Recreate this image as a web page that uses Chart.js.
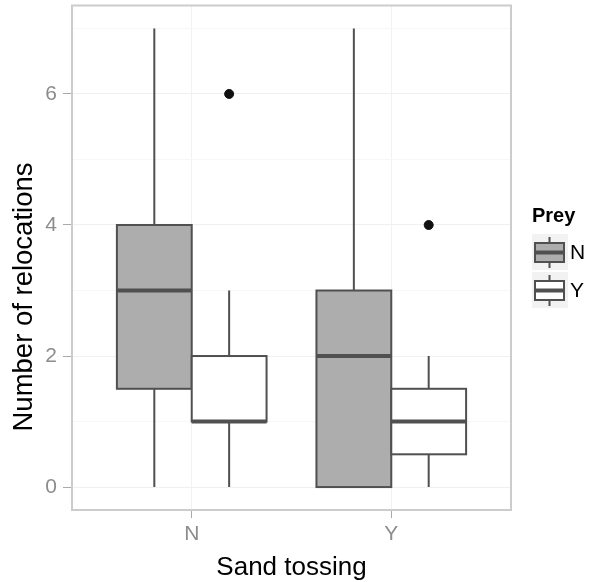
<!DOCTYPE html>
<html>
<head>
<meta charset="utf-8">
<script src="https://cdn.jsdelivr.net/npm/chart.js@4/dist/chart.umd.min.js"></script>
<style>
  body { margin: 0; background: #fff; }
  #wrap { width: 593px; height: 582px; position: relative; }
</style>
</head>
<body>
<div id="wrap"><canvas id="boxChart"></canvas></div>
<script>
// categories
const sandTossing = ['N', 'Y'];
const preyLevels = ['N', 'Y'];

// box stats, one value per sand tossing group
const preyN_min = [0, 0];
const preyN_q1 = [1.5, 0];
const preyN_median = [3, 2];
const preyN_q3 = [4, 3];
const preyN_max = [7, 7];
const preyN_outliers = [[], []];

const preyY_min = [0, 0];
const preyY_q1 = [1, 0.5];
const preyY_median = [1, 1];
const preyY_q3 = [2, 1.5];
const preyY_max = [3, 2];
const preyY_outliers = [[6], [4]];

// y axis ticks
const yTicks = [0, 2, 4, 6];
const yMinor = [1, 3, 5, 7];

const preyFill = ['#ADADAD', '#FFFFFF'];
const lineCol = '#505050';
const dodge = 0.1875;   // half of the dodged box width
const boxW = 0.375;

const preyStats = [
    { min: preyN_min, q1: preyN_q1, med: preyN_median, q3: preyN_q3, max: preyN_max, out: preyN_outliers },
    { min: preyY_min, q1: preyY_q1, med: preyY_median, q3: preyY_q3, max: preyY_max, out: preyY_outliers }
];

function xPos(group, prey) {
    return group + 1 + (prey === 0 ? -dodge : dodge);
}

// outlier points for scatter dataset
const outlierPoints = [];
preyStats.forEach((s, p) => {
    s.out.forEach((vals, g) => {
        vals.forEach(v => outlierPoints.push({ x: xPos(g, p), y: v }));
    });
});

const fontFamily = '"Liberation Sans", Arial, Helvetica, sans-serif';
Chart.defaults.font.family = fontFamily;

function drawBox(ctx, x0, x1, yq1, yq3, ymed, ymin, ymax, xc, fill) {
    ctx.strokeStyle = lineCol;
    ctx.lineWidth = 2;
    // whiskers
    ctx.beginPath();
    ctx.moveTo(xc, ymax); ctx.lineTo(xc, yq3);
    ctx.moveTo(xc, yq1); ctx.lineTo(xc, ymin);
    ctx.stroke();
    // box
    ctx.fillStyle = fill;
    ctx.fillRect(x0, yq3, x1 - x0, yq1 - yq3);
    ctx.strokeRect(x0, yq3, x1 - x0, yq1 - yq3);
    // median
    ctx.lineWidth = 4;
    ctx.beginPath();
    ctx.moveTo(x0, ymed); ctx.lineTo(x1, ymed);
    ctx.stroke();
}

const boxPlugin = {
    id: 'boxes',
    beforeDatasetsDraw(chart) {
        const ctx = chart.ctx;
        const xs = chart.scales.x, ys = chart.scales.y;
        const a = chart.chartArea;
        ctx.save();
        // panel border
        ctx.strokeStyle = '#CCCCCC';
        ctx.lineWidth = 2;
        ctx.strokeRect(a.left, a.top, a.right - a.left, a.bottom - a.top);
        preyStats.forEach((s, p) => {
            sandTossing.forEach((g, gi) => {
                const xc = xPos(gi, p);
                drawBox(ctx,
                    xs.getPixelForValue(xc - boxW / 2), xs.getPixelForValue(xc + boxW / 2),
                    ys.getPixelForValue(s.q1[gi]), ys.getPixelForValue(s.q3[gi]),
                    ys.getPixelForValue(s.med[gi]), ys.getPixelForValue(s.min[gi]),
                    ys.getPixelForValue(s.max[gi]), xs.getPixelForValue(xc), preyFill[p]);
            });
        });
        ctx.restore();
    },
    afterDraw(chart) {
        const ctx = chart.ctx;
        const a = chart.chartArea;
        ctx.save();
        // axis titles
        ctx.fillStyle = '#000';
        ctx.font = '26px ' + fontFamily;
        ctx.textAlign = 'center';
        ctx.textBaseline = 'alphabetic';
        ctx.fillText('Sand tossing', (a.left + a.right) / 2, 575);
        ctx.save();
        ctx.translate(32, 297);
        ctx.rotate(-Math.PI / 2);
        ctx.font = '27.5px ' + fontFamily;
        ctx.fillText('Number of relocations', 0, 0);
        ctx.restore();

        // legend
        const lx = a.right + 21;
        ctx.textAlign = 'left';
        ctx.font = 'bold 20px ' + fontFamily;
        ctx.fillText('Prey', lx, 222);
        ctx.font = '21px ' + fontFamily;
        ctx.textBaseline = 'middle';
        preyLevels.forEach((lab, i) => {
            const ky = 234 + i * 38;
            ctx.fillStyle = '#F2F2F2';
            ctx.fillRect(lx, ky, 36, 36);
            drawBox(ctx, lx + 3, lx + 32, ky + 28, ky + 9, ky + 18.5, ky + 34, ky + 3, lx + 17.5, preyFill[i]);
            ctx.fillStyle = '#000';
            ctx.fillText(lab, lx + 38, ky + 19);
        });
        ctx.restore();
    }
};

const ctx = document.getElementById('boxChart').getContext('2d');
const boxChart = new Chart(ctx, {
    type: 'scatter',
    data: {
        datasets: [{
            label: 'outliers',
            data: outlierPoints,
            backgroundColor: '#111',
            borderColor: '#111',
            pointRadius: 4.5,
            pointHoverRadius: 4.5
        }]
    },
    options: {
        responsive: true,
        maintainAspectRatio: false,
        animation: false,
        layout: { padding: { top: 5, right: 82, left: 0, bottom: 0 } },
        plugins: {
            legend: { display: false },
            tooltip: { enabled: false }
        },
        scales: {
            x: {
                type: 'linear',
                min: 0.4,
                max: 2.6,
                afterBuildTicks: axis => { axis.ticks = sandTossing.map((c, i) => ({ value: i + 1 })); },
                afterFit: scale => { scale.height = 72; scale.paddingLeft = 0; scale.paddingRight = 0; },
                ticks: {
                    callback: v => sandTossing[v - 1],
                    color: '#8C8C8C',
                    font: { size: 21 },
                    padding: 4,
                    autoSkip: false,
                    maxRotation: 0
                },
                grid: { color: '#F2F2F2', tickColor: '#AAAAAA', tickLength: 8, lineWidth: 1 },
                border: { display: true, color: '#CCCCCC', width: 2 }
            },
            y: {
                min: -0.35,
                max: 7.35,
                afterBuildTicks: axis => {
                    axis.ticks = yTicks.concat(yMinor).sort((m, n) => m - n).map(v => ({ value: v }));
                },
                afterFit: scale => { scale.width = 72; scale.paddingTop = 0; scale.paddingBottom = 0; },
                ticks: {
                    callback: v => yTicks.includes(v) ? String(v) : '',
                    color: '#8C8C8C',
                    font: { size: 21 },
                    padding: 6
                },
                grid: {
                    color: c => yTicks.includes(c.tick && c.tick.value) ? '#F0F0F0' : '#F7F7F7',
                    tickColor: c => yTicks.includes(c.tick && c.tick.value) ? '#AAAAAA' : 'rgba(0,0,0,0)',
                    tickLength: 9,
                    lineWidth: 1
                },
                border: { display: true, color: '#CCCCCC', width: 2 }
            }
        }
    },
    plugins: [boxPlugin]
});
</script>
</body>
</html>
